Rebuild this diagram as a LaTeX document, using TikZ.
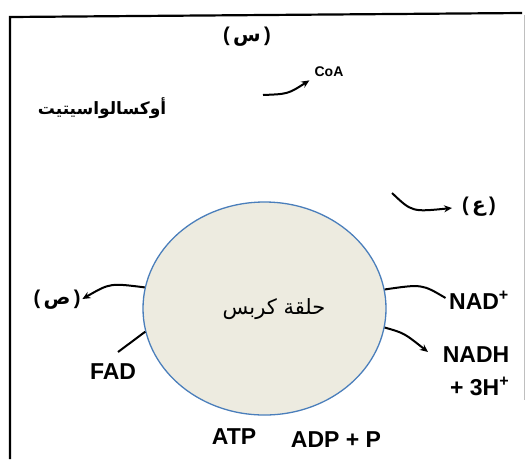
\documentclass[tikz,border=0pt]{standalone}
\usepackage{fontspec}
\setmainfont{Liberation Sans}
\newfontfamily\arabicfont[Script=Arabic]{DejaVu Sans}
\TeXXeTstate=1
\usetikzlibrary{arrows.meta, shapes.geometric, positioning}
\definecolor{cyclefill}{HTML}{EDEBE0}
\definecolor{cycleline}{HTML}{4A7EBB}
\newcommand{\parlbl}[1]{(\,{\arabicfont\bfseries #1}\,)}
\tikzset{
  lbl/.style      ={font=\bfseries\fontsize{23}{25}\selectfont, inner sep=0pt},
  smalllbl/.style ={font=\bfseries\fontsize{14}{16}\selectfont, inner sep=0pt},
  arlbl/.style    ={font=\bfseries\fontsize{20}{22}\selectfont, inner sep=0pt},
  cyclebox/.style ={draw=cycleline, fill=cyclefill, ellipse, line width=1.3pt,
                    minimum width=243pt, minimum height=213pt, inner sep=0pt},
  flow/.style     ={-{Stealth[length=8pt,width=7pt]}, line width=2pt},
  link/.style     ={line width=2pt},
  frame/.style    ={line width=2.2pt},
}

\begin{document}
\begin{tikzpicture}[x=1pt,y=-1pt]
  \useasboundingbox (0,0) rectangle (526,459);
  % scanned frame
  \draw[frame] (10,459) -- (10,17) -- (522,13);
  \draw[black!25, line width=1pt] (524,15) -- (524,400);
  % cycle
  \node[cyclebox] (krebs) at (264.5,308.5) {};
  \node[font=\arabicfont\fontsize{21}{23}\selectfont] (krebslbl) at (274,309) {\beginR حلقة كربس\endR};
  % labels
  \node[arlbl]    (sin)   at (247,37)  {\parlbl{س}};
  \node[smalllbl] (coa)   at (329,72)  {CoA};
  \node[font=\arabicfont\bfseries\fontsize{17}{19}\selectfont, inner sep=0pt] (oxalo) at (102,108) {\beginR أوكسالواسيتيت\endR};
  \node[arlbl]    (ain)   at (479,207) {\parlbl{ع}};
  \node[arlbl]    (sad)   at (57,300)  {\parlbl{ص}};
  \node[lbl]      (fad)   at (113,372) {FAD};
  \node[lbl]      (nad)   at (479,300) {NAD\textsuperscript{+}};
  \node[lbl, align=right, font=\bfseries\fontsize{23}{33}\selectfont] (nadh) at (476,371) {NADH\\+ 3H\textsuperscript{+}};
  \node[lbl]      (atp)   at (234,437) {ATP};
  \node[lbl]      (adp)   at (336,440) {ADP + P};
  % free ends
  \coordinate (coatail) at (263,95);
  \coordinate (aintail) at (392,193);
  \coordinate (fadtip)  at (118,352);
  \coordinate (nadhtip) at (428,352);
  % connectors
  \draw[flow, shorten >=6pt] (coatail) .. controls (288,94) .. (coa.south west);
  \draw[flow, shorten >=10pt] (aintail) .. controls (412,212) .. (ain.west);
  \draw[flow, shorten >=2pt] (krebs.170) .. controls (110,283) .. (sad.east);
  \draw[link] (fadtip) -- (krebs.191);
  \draw[link, shorten >=4pt] (krebs.9) .. controls (422,284) .. (nad.west);
  \draw[flow] (krebs.351) .. controls (404,333) .. (nadhtip);
\end{tikzpicture}
\end{document}
